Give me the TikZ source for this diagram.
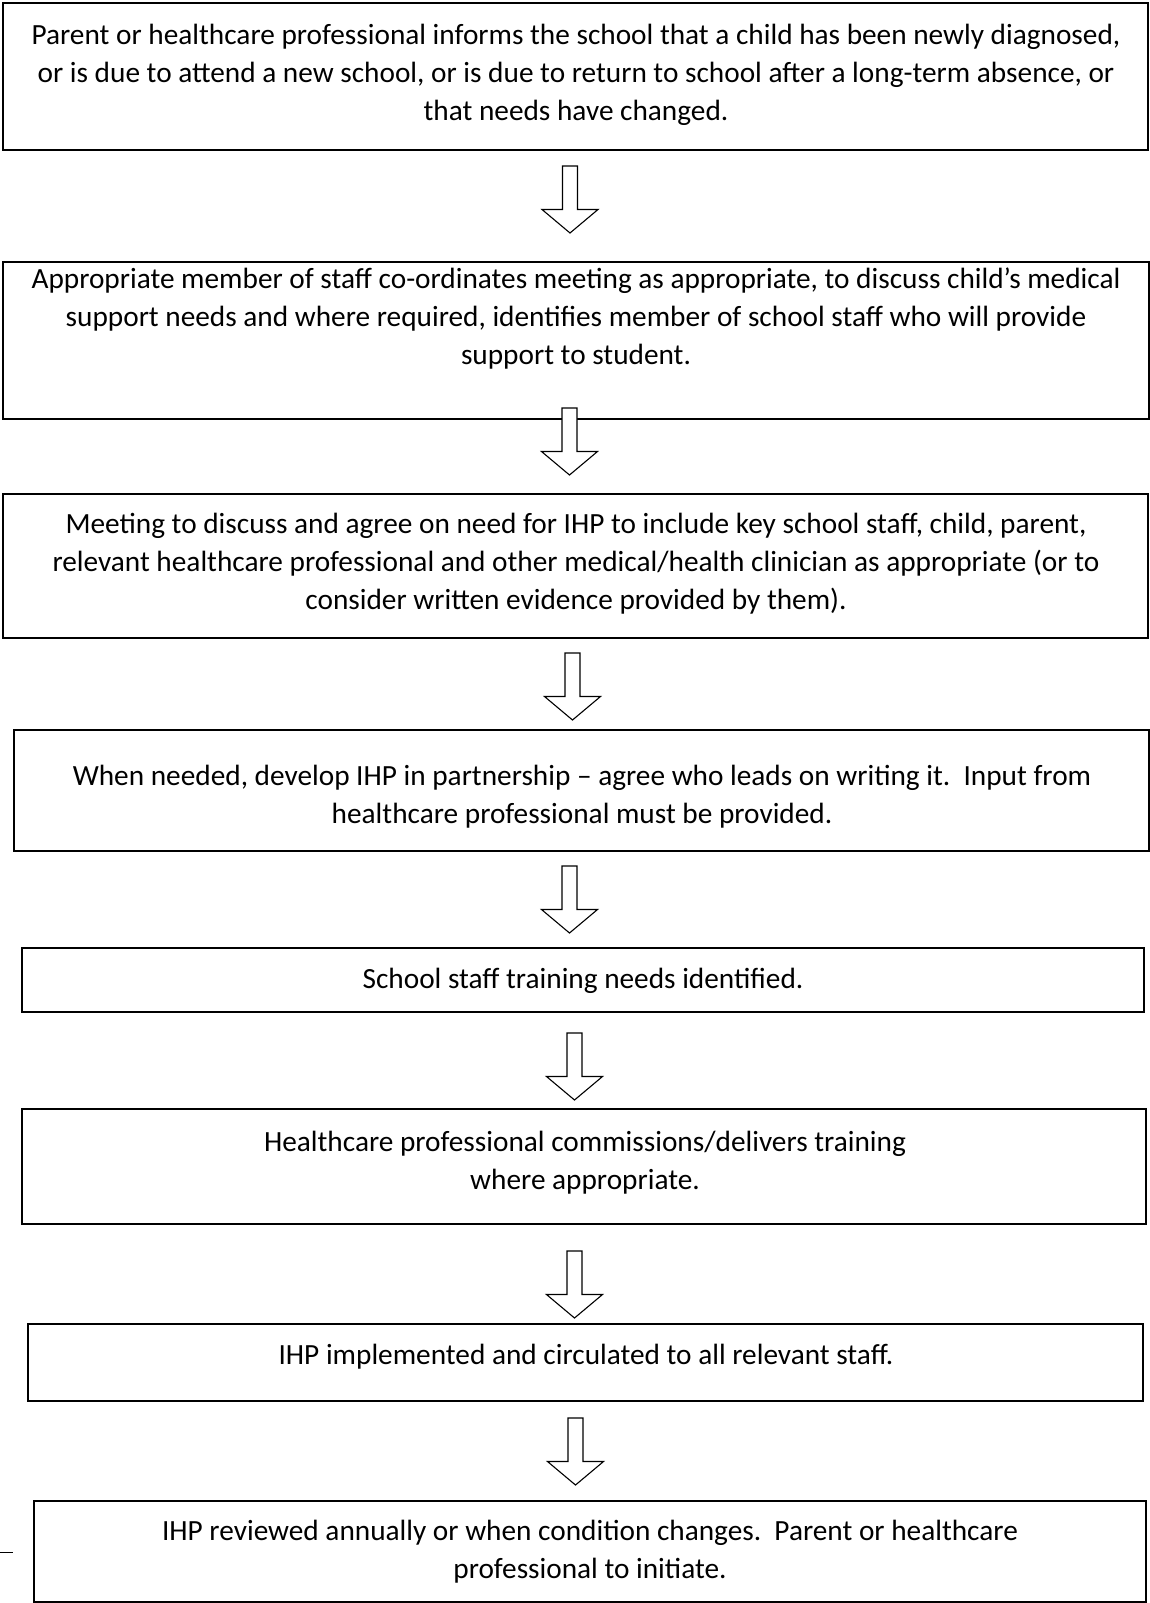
\documentclass[tikz,border=0pt]{standalone}
\usepackage{fontspec}
\setmainfont{Carlito}
\begin{document}
\begin{tikzpicture}[x=1pt,y=-1pt,
  box/.style={draw=black, line width=1.3pt, inner sep=0pt},
  txt/.style={inner sep=0pt, anchor=north, align=center, font={\fontsize{29.3}{37.8}\selectfont}},
  downarr/.pic={\draw[line width=1.1pt, fill=white, line join=miter]
     (-7.5,0) -- (7.5,0) -- (7.5,43.5) -- (28,43.5) -- (0,67) -- (-28,43.5) -- (-7.5,43.5) -- cycle;}
]
\useasboundingbox (0,0) rectangle (1150,1603);
\fill[white] (0,0) rectangle (1150,1603);

% boxes
\node[box, minimum width=1145pt, minimum height=147pt] (b1) at (575.5,76.5) {};
\node[box, minimum width=1146pt, minimum height=157pt] (b2) at (576,340.5) {};
\node[box, minimum width=1145pt, minimum height=144pt] (b3) at (575.5,566) {};
\node[box, minimum width=1135pt, minimum height=121pt] (b4) at (581.5,790.5) {};
\node[box, minimum width=1122pt, minimum height=64pt] (b5) at (583,980) {};
\node[box, minimum width=1124pt, minimum height=115pt] (b6) at (584,1166.5) {};
\node[box, minimum width=1115pt, minimum height=77pt] (b7) at (585.5,1362.5) {};
\node[box, minimum width=1112pt, minimum height=101pt] (b8) at (590,1551.5) {};

% texts
\node[txt] (t1) at (576,18) {\strut Parent or healthcare professional informs the school that a child has been newly diagnosed,\\ or is due to attend a new school, or is due to return to school after a long-term absence, or\\ that needs have changed.};
\node[txt] (t2) at (576,262) {\strut Appropriate member of staff co-ordinates meeting as appropriate, to discuss child’s medical\\ support needs and where required, identifies member of school staff who will provide\\ support to student.};
\node[txt] (t3) at (576,507) {\strut Meeting to discuss and agree on need for IHP to include key school staff, child, parent,\\ relevant healthcare professional and other medical/health clinician as appropriate (or to\\ consider written evidence provided by them).};
\node[txt] (t4) at (582,759) {\strut When needed, develop IHP in partnership – agree who leads on writing it.\ \ Input from\\ healthcare professional must be provided.};
\node[txt] (t5) at (583,962) {\strut School staff training needs identified.};
\node[txt] (t6) at (585,1125) {\strut Healthcare professional commissions/delivers training\\ where appropriate.};
\node[txt] (t7) at (586,1338) {\strut IHP implemented and circulated to all relevant staff.};
\node[txt] (t8) at (590,1514) {\strut IHP reviewed annually or when condition changes.\ \ Parent or healthcare\\ professional to initiate.};

% block arrows
\pic (a1) at (570,166) {downarr};
\pic (a2) at (569.5,408) {downarr};
\pic (a3) at (572.5,653) {downarr};
\pic (a4) at (569.5,866) {downarr};
\pic (a5) at (574.5,1033) {downarr};
\pic (a6) at (574.5,1251) {downarr};
\pic (a7) at (575.5,1418) {downarr};

% small stray dash at left
\coordinate (d1) at (0,1552);
\coordinate (d2) at (13,1552);
\draw[line width=1pt] (d1) -- (d2);
\end{tikzpicture}
\end{document}
